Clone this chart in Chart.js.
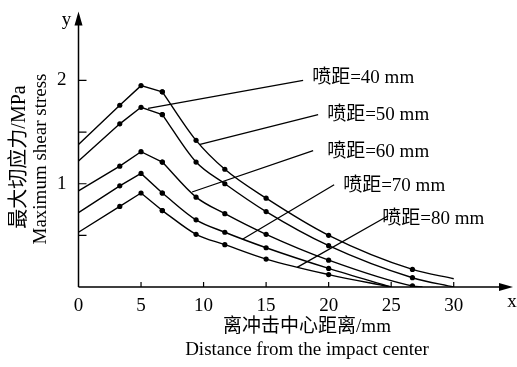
<!DOCTYPE html>
<html>
<head>
<meta charset="utf-8">
<script src="https://cdn.jsdelivr.net/npm/chart.js@4.4.0/dist/chart.umd.min.js"></script>
<style>
  html, body { margin: 0; padding: 0; background: #fff; }
  #wrap { width: 517px; height: 367px; }
</style>
</head>
<body>
<div id="wrap"><canvas id="myChart" width="517" height="367"></canvas></div>
<script>
// distance from impact center (mm)
const distX = [0, 3.3, 5, 6.7, 9.4, 11.7, 15, 20, 26.7]

// maximum shear stress (MPa) for each spray distance
const stress40 = [1.38, 1.76, 1.95, 1.89, 1.42, 1.14, 0.86, 0.50, 0.17]
const stress50 = [1.22, 1.58, 1.74, 1.67, 1.21, 1.00, 0.73, 0.40, 0.09]
const stress60 = [0.93, 1.17, 1.31, 1.21, 0.87, 0.71, 0.51, 0.26, 0.01]
const stress70 = [0.72, 0.98, 1.10, 0.91, 0.65, 0.53, 0.38, 0.18]
const stress80 = [0.53, 0.78, 0.91, 0.74, 0.51, 0.41, 0.27, 0.12]

// where each curve ends (no marker there)
const tailX = [30, 30, 27.5, 25, 25]
const tailY = [0.08, 0, 0, 0, 0]

const seriesLabels = ["喷距=40 mm", "喷距=50 mm", "喷距=60 mm", "喷距=70 mm", "喷距=80 mm"]

// leader lines (data units): start -> end, and label anchor
const leadFromX = [5.56, 9.72, 9.08, 13.08, 17.48]
const leadFromY = [1.73, 1.38, 0.92, 0.46, 0.19]
const leadToX = [17.96, 19.16, 18.76, 20.44, 24.76]
const leadToY = [2.0, 1.67, 1.32, 0.99, 0.69]
const labelX = [18.68, 19.88, 19.88, 21.16, 24.28]
const labelY = [2.02, 1.67, 1.31, 0.976, 0.655]

const xTicks = [0, 5, 10, 15, 20, 25, 30]
const yTicks = [0.5, 1, 1.5, 2]
const yTickLabels = [1, 2]

const FONT = "'Liberation Serif', 'Noto Sans CJK SC', serif"
const allSeries = [stress40, stress50, stress60, stress70, stress80]

function buildDatasets() {
    let sets = []
    for (let s = 0; s < allSeries.length; s++) {
        let vals = allSeries[s]
        let rise = []
        let fall = []
        for (let i = 0; i < vals.length; i++) {
            let p = { x: distX[i], y: vals[i] }
            if (i <= 3) rise.push(p)
            if (i >= 3) fall.push(p)
        }
        fall.push({ x: tailX[s], y: tailY[s], end: true })
        sets.push({
            data: rise,
            borderColor: '#000',
            backgroundColor: '#000',
            borderWidth: 1.4,
            tension: 0,
            pointRadius: function (ctx) { return ctx.dataIndex == 0 ? 0 : 2.6 },
            pointBorderWidth: 0
        })
        sets.push({
            data: fall,
            borderColor: '#000',
            backgroundColor: '#000',
            borderWidth: 1.4,
            cubicInterpolationMode: 'monotone',
            pointRadius: function (ctx) { return ctx.raw && ctx.raw.end ? 0 : 2.6 },
            pointBorderWidth: 0
        })
    }
    return sets
}

const decor = {
    id: 'decor',
    afterDatasetsDraw(chart) {
        const ctx = chart.ctx
        const xs = chart.scales.x
        const ys = chart.scales.y
        const x0 = xs.getPixelForValue(0)
        const y0 = ys.getPixelForValue(0)
        const top = chart.chartArea.top
        const right = chart.chartArea.right
        ctx.save()
        ctx.strokeStyle = '#000'
        ctx.fillStyle = '#000'
        ctx.lineWidth = 1.5

        // axes
        ctx.beginPath()
        ctx.moveTo(x0, y0)
        ctx.lineTo(x0, top + 8)
        ctx.moveTo(x0, y0)
        ctx.lineTo(right - 8, y0)
        ctx.stroke()
        // arrow heads
        ctx.beginPath()
        ctx.moveTo(x0, top - 4)
        ctx.lineTo(x0 - 4, top + 10)
        ctx.lineTo(x0 + 4, top + 10)
        ctx.closePath()
        ctx.fill()
        ctx.beginPath()
        ctx.moveTo(right + 3, y0)
        ctx.lineTo(right - 11, y0 - 4)
        ctx.lineTo(right - 11, y0 + 4)
        ctx.closePath()
        ctx.fill()

        // ticks
        ctx.lineWidth = 1.2
        ctx.beginPath()
        for (let i = 0; i < yTicks.length; i++) {
            let py = ys.getPixelForValue(yTicks[i])
            ctx.moveTo(x0, py)
            ctx.lineTo(x0 + 8, py)
        }
        for (let i = 1; i < xTicks.length; i++) {
            let px = xs.getPixelForValue(xTicks[i])
            ctx.moveTo(px, y0)
            ctx.lineTo(px, y0 - 5)
        }
        ctx.stroke()

        // leader lines
        ctx.lineWidth = 1.3
        ctx.beginPath()
        for (let i = 0; i < leadFromX.length; i++) {
            ctx.moveTo(xs.getPixelForValue(leadFromX[i]), ys.getPixelForValue(leadFromY[i]))
            ctx.lineTo(xs.getPixelForValue(leadToX[i]), ys.getPixelForValue(leadToY[i]))
        }
        ctx.stroke()

        // labels
        ctx.font = '19px ' + FONT
        ctx.textBaseline = 'middle'
        ctx.textAlign = 'left'
        for (let i = 0; i < seriesLabels.length; i++) {
            ctx.fillText(seriesLabels[i], xs.getPixelForValue(labelX[i]), ys.getPixelForValue(labelY[i]))
        }

        // axis letters
        ctx.textAlign = 'center'
        ctx.fillText('y', x0 - 12, top + 5)
        ctx.fillText('x', 512, y0 + 15)

        // axis titles
        ctx.fillText('离冲击中心距离/mm', 307, 327)
        ctx.fillText('Distance from the impact center', 307, 350)
        ctx.save()
        ctx.translate(20, 157)
        ctx.rotate(-Math.PI / 2)
        ctx.font = '20px ' + FONT
        ctx.fillText('最大切应力/MPa', 0, 0)
        ctx.restore()
        ctx.save()
        ctx.translate(41, 159)
        ctx.rotate(-Math.PI / 2)
        ctx.fillText('Maximum shear stress', 0, 0)
        ctx.restore()
        ctx.restore()
    }
}

function chartJS() {
    var ctx = document.getElementById('myChart').getContext('2d')
    window.line = new Chart(ctx, {
        type: 'line',
        data: { datasets: buildDatasets() },
        options: {
            responsive: false,
            animation: false,
            layout: { padding: { top: 12, right: 7, left: 0, bottom: 0 } },
            plugins: { legend: { display: false }, tooltip: { enabled: false } },
            scales: {
                x: {
                    type: 'linear',
                    min: 0,
                    max: 34.5,
                    border: { display: false },
                    grid: { display: false },
                    afterFit: function (scale) { scale.height = 80 },
                    afterBuildTicks: function (scale) {
                        scale.ticks = xTicks.map(function (v) { return { value: v } })
                    },
                    ticks: {
                        padding: 0,
                        color: '#000',
                        font: { family: FONT, size: 19 },
                        maxRotation: 0,
                        autoSkip: false
                    }
                },
                y: {
                    type: 'linear',
                    min: 0,
                    max: 2.63,
                    border: { display: false },
                    grid: { display: false },
                    afterFit: function (scale) { scale.width = 78.5 },
                    afterBuildTicks: function (scale) {
                        scale.ticks = yTickLabels.map(function (v) { return { value: v } })
                    },
                    ticks: {
                        padding: 4,
                        color: '#000',
                        font: { family: FONT, size: 19 },
                        autoSkip: false
                    }
                }
            }
        },
        plugins: [decor]
    })
}

chartJS()
</script>
</body>
</html>
